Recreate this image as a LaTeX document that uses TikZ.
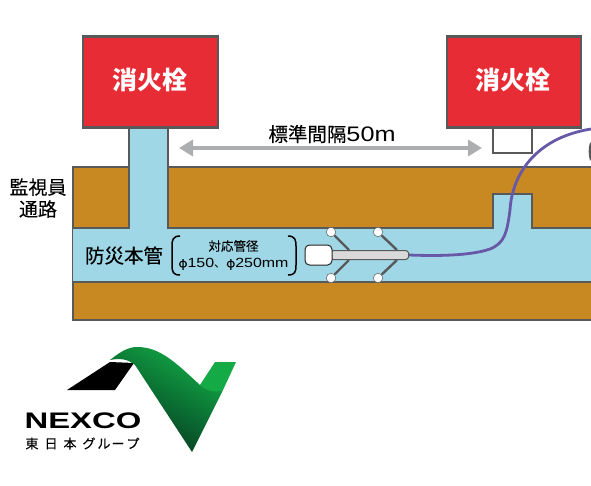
\documentclass[tikz,border=0pt]{standalone}
\usepackage{fontspec}
\newfontfamily\cjk{Noto Sans CJK JP}
\newfontfamily\cjkm[FakeBold=0.25]{Noto Sans CJK JP}
\newfontfamily\wide[FakeStretch=1.2]{Liberation Sans}
\newfontfamily\logofont[FakeStretch=1.46]{Liberation Sans}
\usetikzlibrary{arrows.meta}
\definecolor{wall}{RGB}{88,89,91}
\definecolor{soil}{RGB}{200,136,34}
\definecolor{water}{RGB}{160,215,230}
\definecolor{hyd}{RGB}{232,44,54}
\definecolor{cable}{RGB}{104,88,168}
\definecolor{arrowgray}{RGB}{172,174,176}
\definecolor{logobright}{RGB}{20,170,70}
\definecolor{logomid}{RGB}{10,110,50}
\definecolor{logodark}{RGB}{8,50,30}
\tikzset{
  wallline/.style={draw=wall,line width=2.6pt,line join=miter},
  hydrant/.style={wallline,fill=hyd},
  hydtext/.style={text=white,font=\cjk\bfseries\fontsize{25}{25}\selectfont,inner sep=0pt},
  blacktext/.style={text=black,inner sep=0pt,align=center},
  armline/.style={draw=wall,line width=2.4pt},
  wheel/.style={circle,draw=wall,fill=white,line width=.5pt,minimum size=9.5pt,inner sep=0pt},
}
\begin{document}
\begin{tikzpicture}[x=1pt,y=-1pt]
\useasboundingbox (0,0) rectangle (591,485);
% soil
\fill[soil] (73,166) rectangle (591,320);
\draw[wallline] (591,320) -- (73,320) -- (73,167) -- (129,167);
\draw[wallline] (168,167) -- (591,167);
% water
\fill[water] (73,228) rectangle (591,282);
\fill[water] (129,126) rectangle (168,228);
\fill[water] (493,194) rectangle (532,228);
\draw[wallline] (129,126) -- (129,228) -- (73,228);
\draw[wallline] (168,126) -- (168,228) -- (493,228) -- (493,194) -- (532,194) -- (532,228) -- (591,228);
\draw[wallline] (73,282) -- (591,282);
% hydrants
\node[hydrant,minimum width=135pt,minimum height=91pt,anchor=north west,inner sep=0pt] (h1) at (81.5,35) {};
\node[hydrant,minimum width=134pt,minimum height=91pt,anchor=north west,inner sep=0pt] (h2) at (445.5,35) {};
\node[hydtext] (t1) at (149.5,80) {消火栓};
\node[hydtext] (t2) at (513,80) {消火栓};
\draw[wallline] (493,126) -- (493,153) -- (532,153) -- (532,126);
\draw[wallline] (591.5,143) .. controls (589.5,146) and (589.5,157) .. (591.5,160);
% distance arrow
\coordinate (aL) at (179,148);
\coordinate (aR) at (482,148);
\draw[arrowgray,line width=3.6pt,{Triangle[length=14pt,width=16pt]}-{Triangle[length=14pt,width=16pt]}] (aL) -- (aR);
\node[blacktext] (dist) at (332,134) {\cjkm\fontsize{19.5}{20}\selectfont 標準間隔\wide\fontsize{21}{21}\selectfont 50m};
% side labels
\node[blacktext,font=\cjkm\fontsize{19}{22}\selectfont] (walk) at (38,198) {監視員\\通路};
\node[blacktext,font=\cjkm\fontsize{19.5}{20}\selectfont] (main) at (124,255.5) {防災本管};
\node[blacktext,font=\cjkm\fontsize{12.5}{13}\selectfont] (dia1) at (233.5,246) {対応管径};
\node[blacktext] (dia2) at (233.5,264) {\cjkm\fontsize{12}{12}\selectfont φ\wide\fontsize{13.3}{14}\selectfont 150\cjk\fontsize{12}{12}\selectfont 、\cjkm φ\wide\fontsize{13.3}{14}\selectfont 250mm};
\draw[black,line width=1.5pt] (180,236) .. controls (173,236) and (172,240) .. (172,246) -- (172,265) .. controls (172,272) and (173,275) .. (180,275);
\draw[black,line width=1.5pt] (288,236) .. controls (295,236) and (296,240) .. (296,246) -- (296,265) .. controls (296,272) and (295,275) .. (288,275);
% cable
\coordinate (c0) at (409,255);
\coordinate (c2) at (510,210);
\coordinate (c3) at (591,129);
\draw[cable,line width=2.8pt] (c0) .. controls (435,256) and (470,256) .. (490,249) .. controls (505,243) and (507,232) .. (c2) .. controls (512,175) and (535,138) .. (c3);
% tool arms
\coordinate (j1) at (349,250);
\coordinate (j2) at (397,250);
\coordinate (j3) at (349,260);
\coordinate (j4) at (397,260);
\node[wheel] (w1) at (331,232) {};
\node[wheel] (w2) at (378,232) {};
\node[wheel] (w3) at (331,278) {};
\node[wheel] (w4) at (378,278) {};
\draw[armline] (w1) -- (j1);
\draw[armline] (w2) -- (j2);
\draw[armline] (w3) -- (j3);
\draw[armline] (w4) -- (j4);
% tool body
\draw[draw=wall,fill=black!15,line width=1pt,rounded corners=2.5pt] (331,250.5) -- (408,250.5) -- (409,255) -- (408,259.5) -- (331,259.5) -- cycle;
\draw[draw=black!85,fill=white,line width=1pt,rounded corners=4.5pt] (305,245) rectangle (332,265);
% logo
\fill[black] (67,390) -- (110,362) -- (134,363) -- (115,390) -- cycle;
\fill[logobright] (200,385) -- (215,362) -- (236,362) -- (223,390) -- (210,395) -- cycle;
\shade[left color=logobright,right color=logodark,middle color=logomid,shading angle=-30] (110,360) .. controls (120,352) and (128,347) .. (137,347) .. controls (160,347) and (175,362) .. (200,385) .. controls (206,391) and (216,393) .. (223,390) -- (192,452) -- (135,365) .. controls (128,359) and (120,358) .. (110,360) -- cycle;
\node[inner sep=0pt,text=black,font=\logofont\bfseries\fontsize{22.5}{23}\selectfont] (nx) at (83,420.5) {NEXCO};
\node[inner sep=0pt,text=black,font=\cjkm\fontsize{13}{13}\selectfont] (ng) at (82.5,443.5) {東\hspace{6pt}日\hspace{6pt}本\hspace{6pt}グ\hspace{2pt}ル\hspace{1pt}ー\hspace{2pt}プ};
\end{tikzpicture}
\end{document}
